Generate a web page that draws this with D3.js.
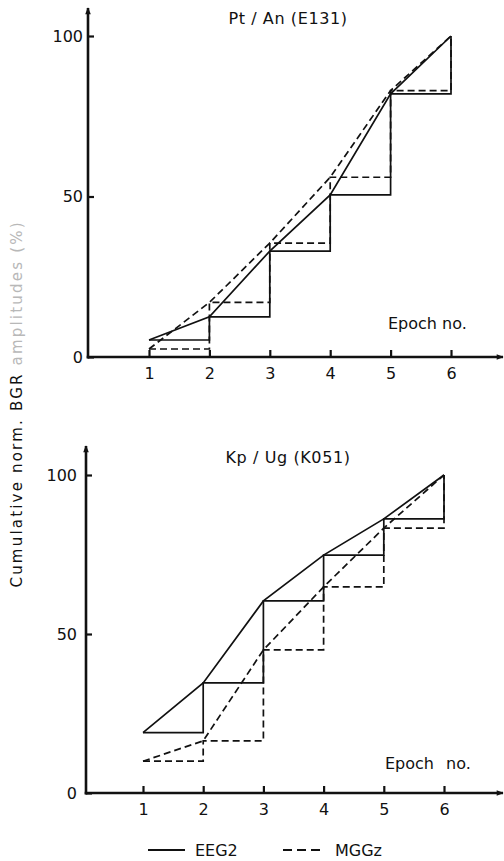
<!DOCTYPE html>
<html lang="en">
<head>
<meta charset="utf-8">
<script src="https://d3js.org/d3.v7.min.js"></script>
<style type="text/css">
body { margin: 0; background: #fff; }
svg text { font-family: "DejaVu Sans", sans-serif; fill: #111; }
</style>
</head>
<body>
<script type="text/javascript">

// data
var epochs = [1, 2, 3, 4, 5, 6];
var yTicks = [0, 50, 100];
var titles = ["Pt / An (E131)", "Kp / Ug (K051)"];
var seriesNames = ["EEG2", "MGGz"];
var eegTop = [5.3, 12.5, 33, 50.5, 82, 100];
var mggTop = [2.5, 17, 35.5, 56, 83, 100];
var eegBottom = [19, 34.6, 60.4, 74.8, 86.2, 100];
var mggBottom = [10, 16.4, 45, 64.8, 83.3, 100];

var width = 504, height = 861;

var svg = d3.select("body").append("svg")
	.attr("width", width)
	.attr("height", height);

svg.append("defs").append("marker")
	.attr("id", "arrow")
	.attr("viewBox", "0 0 10 10")
	.attr("refX", 9).attr("refY", 5)
	.attr("markerWidth", 13).attr("markerHeight", 7)
	.attr("markerUnits", "userSpaceOnUse")
	.attr("orient", "auto")
	.append("path")
	.attr("d", "M0,1 L10,5 L0,9 Z")
	.attr("fill", "#111");

// panel layout
var panels = [
	{ title: titles[0], eeg: eegTop, mgg: mggTop, axisX: 88, x1: 149, x6: 451, y0: 357, y100: 36, topY: 8, pad: 5, titleY: 18, epochX: 388, epochY: 323, wide: false },
	{ title: titles[1], eeg: eegBottom, mgg: mggBottom, axisX: 86, x1: 143, x6: 444, y0: 793, y100: 475, topY: 446, pad: 9, titleY: 457, epochX: 385, epochY: 763, wide: true }
];

panels.forEach(function(p) {
	var g = svg.append("g");

	var x = d3.scaleLinear().domain([1, 6]).range([p.x1, p.x6]);
	var y = d3.scaleLinear().domain([0, 100]).range([p.y0, p.y100]);

	// axis lines with arrow heads
	g.append("line")
		.attr("x1", p.axisX).attr("x2", p.axisX)
		.attr("y1", p.y0 + 1.5).attr("y2", p.topY)
		.attr("stroke", "#111").attr("stroke-width", 2.6)
		.attr("marker-end", "url(#arrow)");
	g.append("line")
		.attr("x1", p.axisX - 1.3).attr("x2", 503)
		.attr("y1", p.y0).attr("y2", p.y0)
		.attr("stroke", "#111").attr("stroke-width", 2.6)
		.attr("marker-end", "url(#arrow)");

	var xAxis = g.append("g")
		.attr("transform", "translate(0," + p.y0 + ")")
		.call(d3.axisBottom(x).tickValues(epochs).tickSize(-7).tickPadding(11).tickFormat(d3.format("d")));
	xAxis.select(".domain").remove();
	xAxis.selectAll("line").attr("stroke", "#111").attr("stroke-width", 2.2);
	xAxis.selectAll("text").style("font-size", "16px");

	var yAxis = g.append("g")
		.attr("transform", "translate(" + p.axisX + ",0)")
		.call(d3.axisLeft(y).tickValues(yTicks).tickSize(-6).tickPadding(p.pad));
	yAxis.select(".domain").remove();
	yAxis.selectAll("line").attr("stroke", "#111").attr("stroke-width", 2.2);
	yAxis.selectAll("text").style("font-size", "16px");

	g.append("text")
		.attr("x", 288).attr("y", p.titleY)
		.attr("dy", "0.35em")
		.attr("text-anchor", "middle")
		.style("font-size", "16px")
		.style("letter-spacing", "0.6px")
		.text(p.title);

	g.append("text")
		.attr("x", p.epochX).attr("y", p.epochY)
		.attr("dy", "0.35em")
		.style("font-size", "16px")
		.style("word-spacing", p.wide ? "7px" : "0px")
		.text("Epoch no.");

	var steps = d3.line()
		.x(function(d, i) { return x(epochs[i]); })
		.y(function(d) { return y(d); })
		.curve(d3.curveStepAfter);
	var trend = d3.line()
		.x(function(d, i) { return x(epochs[i]); })
		.y(function(d) { return y(d); });

	// MGGz dashed
	[steps, trend].forEach(function(gen) {
		g.append("path")
			.attr("d", gen(p.mgg))
			.attr("fill", "none")
			.attr("stroke", "#111")
			.attr("stroke-width", 1.7)
			.attr("stroke-dasharray", "7,4");
	});
	// EEG2 solid
	[steps, trend].forEach(function(gen) {
		g.append("path")
			.attr("d", gen(p.eeg))
			.attr("fill", "none")
			.attr("stroke", "#111")
			.attr("stroke-width", 1.7);
	});
});

// shared y label
var ylab = svg.append("text")
	.attr("transform", "translate(17,405) rotate(-90)")
	.attr("text-anchor", "middle")
	.attr("dy", "0.35em")
	.style("font-size", "15px")
	.attr("textLength", 365)
	.attr("lengthAdjust", "spacing");
ylab.append("tspan").text("Cumulative  norm.  BGR  ");
ylab.append("tspan").style("fill", "#b8b8b8").text("amplitudes (%)");

// legend
var legend = svg.append("g");
legend.selectAll("line")
	.data(seriesNames)
	.enter().append("line")
	.attr("x1", function(d, i) { return i ? 283 : 148; })
	.attr("x2", function(d, i) { return i ? 325 : 185; })
	.attr("y1", 850).attr("y2", 850)
	.attr("stroke", "#111").attr("stroke-width", 1.8)
	.attr("stroke-dasharray", function(d, i) { return i ? "9,5" : null; });
legend.selectAll("text")
	.data(seriesNames)
	.enter().append("text")
	.attr("x", function(d, i) { return i ? 335 : 195; })
	.attr("y", 850)
	.attr("dy", "0.35em")
	.style("font-size", "16px")
	.text(function(d) { return d; });

</script>
</body>
</html>
